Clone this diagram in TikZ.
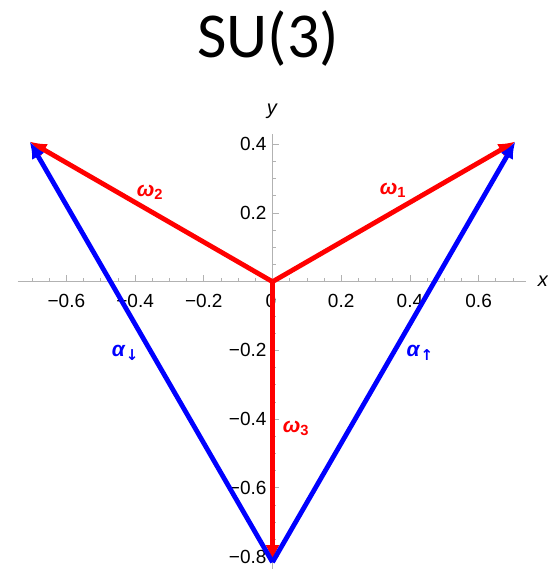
\documentclass[tikz,border=0pt]{standalone}
\usepackage{fontspec}
\setmainfont{Liberation Sans}
\newfontfamily\titlefont{Carlito}
\newfontfamily\arrowfont{DejaVu Sans}
\usetikzlibrary{arrows.meta}

\tikzset{
  axisline/.style={draw=black!30, line width=0.9pt},
  tickline/.style={draw=black!30, line width=0.7pt},
  ticklabel/.style={font=\fontsize{19}{19}\selectfont, inner sep=1pt},
  vecred/.style={draw=red, line width=4.8pt, -{Latex[length=17pt,width=14pt]}},
  vecblue/.style={draw=blue, line width=4.8pt, -{Latex[length=17pt,width=14pt]}},
  veclabel/.style={font=\fontsize{21}{21}\selectfont\bfseries\itshape, inner sep=0pt}
}
\newcommand{\veclab}[2]{#1\textsubscript{\upshape #2}}
\newcommand{\arrlab}[2]{#1\kern1pt\raisebox{-4pt}{\arrowfont\fontsize{15}{15}\selectfont\bfseries\upshape #2}}

\begin{document}
\begin{tikzpicture}[x=343.5pt,y=343.5pt,>=Latex]
    \useasboundingbox (-0.7933,-0.8422) rectangle (0.8020,0.8201);

    % title
    \node[font=\titlefont\fontsize{64}{64}\selectfont] (title) at (-0.012,0.709) {SU(3)};

    % axes
    \coordinate (xmin) at (-0.742,0);
    \coordinate (xmax) at (0.738,0);
    \coordinate (ymin) at (0,-0.836);
    \coordinate (ymax) at (0,0.43);
    \draw[axisline] (xmin) -- (xmax);
    \draw[axisline] (ymin) -- (ymax);
    \node[font=\fontsize{20}{20}\selectfont\itshape] (xname) at (0.787,0.0) {x};
    \node[font=\fontsize{20}{20}\selectfont\itshape] (yname) at (-0.002,0.495) {y};

    % ticks
    \foreach \i in {-14,...,14} {
      \draw[tickline] (\i*0.05,0) -- ++(0,3.5pt);
    }
    \foreach \i in {-12,-8,-4,4,8,12} {
      \draw[tickline] (\i*0.05,0) -- ++(0,6.5pt);
    }
    \foreach \j in {-16,...,8} {
      \draw[tickline] (0,\j*0.05) -- ++(3.5pt,0);
    }
    \foreach \j in {-16,-12,-8,-4,4,8} {
      \draw[tickline] (0,\j*0.05) -- ++(6.5pt,0);
    }

    % tick labels
    \node[ticklabel] (xlm6) at (-0.6,-0.055) {−0.6};
    \node[ticklabel] (xlm4) at (-0.4,-0.055) {−0.4};
    \node[ticklabel] (xlm2) at (-0.2,-0.055) {−0.2};
    \node[ticklabel] (xl0) at (-0.005,-0.055) {0};
    \node[ticklabel] (xl2) at (0.2,-0.055) {0.2};
    \node[ticklabel] (xl4) at (0.4,-0.055) {0.4};
    \node[ticklabel] (xl6) at (0.6,-0.055) {0.6};
    \foreach \y/\t in {0.4/0.4,0.2/0.2,-0.2/−0.2,-0.4/−0.4,-0.6/−0.6,-0.8/−0.8} {
      \node[ticklabel, anchor=east] at (-0.014,\y) {\t};
    }

    % weights and roots
    \coordinate (O) at (0,0);
    \coordinate (W1) at (0.7071,0.4082);
    \coordinate (W2) at (-0.7071,0.4082);
    \coordinate (W3) at (0,-0.8165);
    \draw[vecred] (O) -- (W1);
    \draw[vecred] (O) -- (W2);
    \draw[vecred] (O) -- (W3);
    \draw[vecblue] (W3) -- (W1);
    \draw[vecblue] (W3) -- (W2);

    % labels
    \node[veclabel, red] (lw1) at (0.351,0.267) {\veclab{ω}{1}};
    \node[veclabel, red] (lw2) at (-0.357,0.261) {\veclab{ω}{2}};
    \node[veclabel, red] (lw3) at (0.068,-0.426) {\veclab{ω}{3}};
    \node[veclabel, blue] (lad) at (-0.429,-0.208) {\arrlab{α}{↓}};
    \node[veclabel, blue] (lau) at (0.429,-0.208) {\arrlab{α}{↑}};
\end{tikzpicture}
\end{document}
